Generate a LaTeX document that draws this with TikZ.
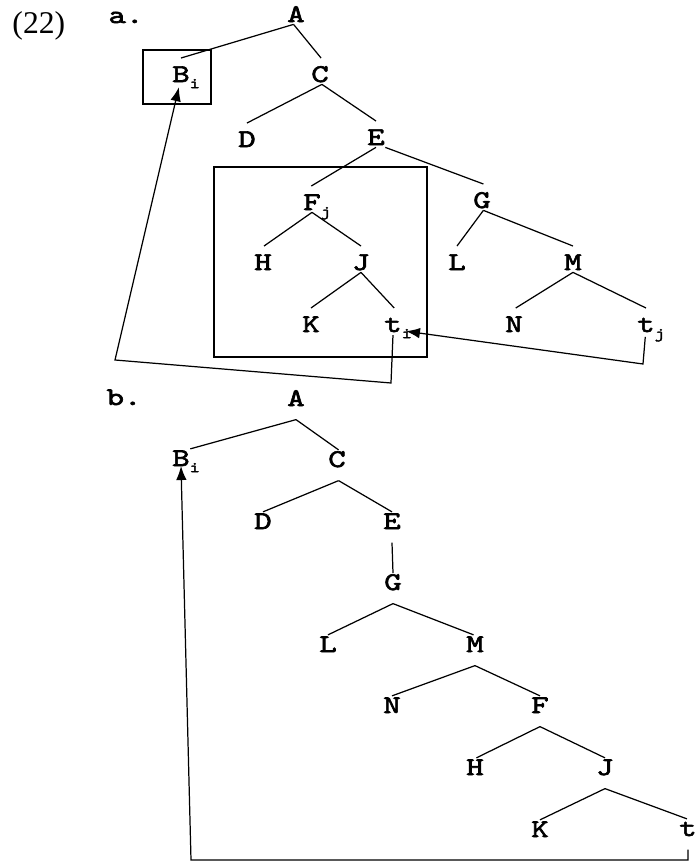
\documentclass[tikz,border=0pt]{standalone}
\usepackage{fontspec}
\setmainfont{Liberation Serif}
\newfontfamily\courfont{lmmono10-regular.otf}[FakeBold=2.5, FakeStretch=1.3]
\usetikzlibrary{arrows.meta}
\newcommand{\ix}[1]{\rlap{\raisebox{-3.5pt}{\fontsize{8.5}{8.5}\selectfont #1}}}
\tikzset{
  cat/.style={font=\courfont\fontsize{14.5}{14.5}\selectfont, inner sep=0pt, anchor=base},
  cata/.style={cat, text height=13.3pt, text depth=1pt},
  catb/.style={cat, text height=9.4pt, text depth=7.4pt},
  move/.style={-{Latex[length=8pt,width=6pt]}},
}
\begin{document}
\begin{tikzpicture}[scale=0.2, line width=0.7pt]
\useasboundingbox (0,0) rectangle (69.5,-86.1);
\node [anchor=base west, font=\fontsize{18}{18}\selectfont] (num) at (0.6,-3.3) {(22)};
\node [cat, anchor=base west] (tagA) at (10.8,-2.3) {a.};
\node [cat, anchor=base west] (tagB) at (10.6,-40.5) {b.};
% tree a
\node [cata] (aA) at (29.6,-2.2) {A};
\node [cata] (aB) at (18.1,-8.2) {B\ix{i}};
\node [cata] (aC) at (32.0,-8.2) {C};
\node [cata] (aD) at (24.7,-14.7) {D};
\node [cata] (aE) at (37.6,-14.5) {E};
\node [cata] (aF) at (31.2,-21.0) {F\ix{j}};
\node [cata] (aG) at (48.2,-20.8) {G};
\node [cata] (aH) at (26.3,-27.0) {H};
\node [cata] (aJ) at (36.1,-27.0) {J};
\node [cata] (aL) at (45.7,-27.0) {L};
\node [cata] (aM) at (57.3,-27.0) {M};
\node [cata] (aK) at (31.1,-33.2) {K};
\node [cata] (ati) at (39.3,-33.2) {t\ix{i}};
\node [cata] (aN) at (51.4,-33.2) {N};
\node [cata] (atj) at (64.6,-33.2) {t\ix{j}};
\draw (14.3,-5.0) rectangle (21.1,-10.4);
\draw (21.4,-16.7) rectangle (42.7,-35.7);
\draw ([xshift=-7pt]aA.south) -- (aB.north);
\draw ([xshift=-7pt]aA.south) -- ([xshift=3pt]aC.north);
\draw ([xshift=5.5pt]aC.south) -- (aD.north);
\draw ([xshift=5.5pt]aC.south) -- (aE.north);
\draw (aE.south) -- ([xshift=-2pt]aF.north);
\draw (aE.south east) -- ([xshift=4pt]aG.north);
\draw (aF.south) -- ([xshift=3pt]aH.north);
\draw (aF.south) -- (aJ.north);
\draw (aJ.south) -- (aK.north);
\draw (aJ.south) -- ([xshift=3.5pt]ati.north);
\draw ([xshift=4pt]aG.south) -- (aL.north);
\draw ([xshift=4pt]aG.south) -- (aM.north);
\draw (aM.south) -- ([xshift=5pt]aN.north);
\draw (aM.south) -- (atj.north);
% movement in a
\coordinate (tidn) at (39.1,-38.3);
\coordinate (lcorn) at (11.5,-36.0);
\coordinate (tjdn) at (64.3,-36.4);
\draw [move] ([yshift=-2pt]ati.south) -- (tidn) -- (lcorn) -- ([shift={(-6pt,-8pt)}]aB.south);
\draw [move] ([xshift=-2pt,yshift=-7pt]atj.south) -- (tjdn) -- ([shift={(10.2pt,2.3pt)}]ati.base east);
% tree b
\node [catb] (bA) at (29.6,-40.6) {A};
\node [catb] (bB) at (18.1,-46.6) {B\ix{i}};
\node [catb] (bC) at (33.7,-46.7) {C};
\node [catb] (bD) at (26.3,-52.9) {D};
\node [catb] (bE) at (39.2,-52.9) {E};
\node [catb] (bG) at (39.3,-59.0) {G};
\node [catb] (bL) at (32.8,-65.2) {L};
\node [catb] (bM) at (47.5,-65.2) {M};
\node [catb] (bN) at (39.2,-71.3) {N};
\node [catb] (bF) at (54.0,-71.3) {F};
\node [catb] (bH) at (47.5,-77.5) {H};
\node [catb] (bJ) at (60.5,-77.5) {J};
\node [catb] (bK) at (54.0,-83.7) {K};
\node [catb] (bt) at (68.8,-83.6) {t};
\draw (bA.south) -- (bB.north east);
\draw (bA.south) -- ([xshift=4.5pt]bC.north);
\draw ([xshift=4.5pt]bC.south) -- (bD.north);
\draw ([xshift=4.5pt]bC.south) -- (bE.north);
\draw (bE.south) -- (bG.north);
\draw (bG.south) -- (bL.north);
\draw (bG.south) -- ([xshift=-4pt]bM.north);
\draw (bM.south) -- (bN.north);
\draw (bM.south) -- (bF.north);
\draw (bF.south) -- ([xshift=4pt]bH.north);
\draw (bF.south) -- (bJ.north);
\draw (bJ.south) -- (bK.north);
\draw (bJ.south) -- ([xshift=-3pt]bt.north);
% movement in b
\coordinate (bcorn) at (19.1,-86.0);
\draw [move] (bt.south) |- (bcorn) -- (bB.base);
\end{tikzpicture}
\end{document}
